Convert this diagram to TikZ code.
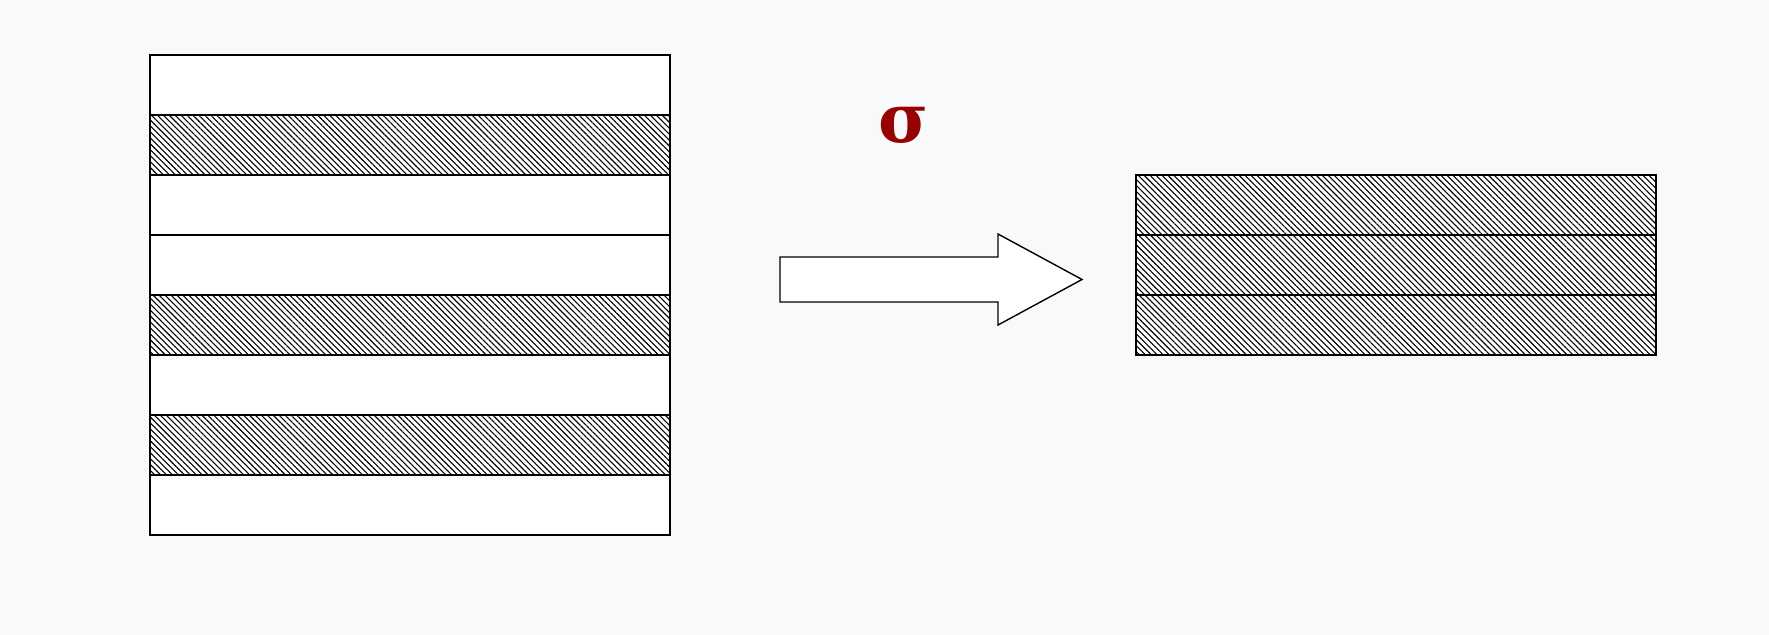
\documentclass[tikz,border=0pt]{standalone}
\usepackage{fontspec}
\usetikzlibrary{patterns.meta}
\newfontfamily\sigmafont{DejaVu Serif}
\definecolor{bgcol}{HTML}{F8F9FA}
\definecolor{sigmared}{HTML}{990000}
\tikzset{hatched/.style={pattern={Lines[angle=-45,distance=2.1pt,line width=.55pt]}}}
\begin{document}
\begin{tikzpicture}[x=.5pt,y=-.5pt,line width=.75pt]
            \def\w{520} \def\h{60}
            \fill[bgcol] (0,0) rectangle (1769,635);
            \useasboundingbox (0,0) rectangle (1769,635);
            % left stack
            \foreach \i in {0,...,7}
            \draw[fill=white] (150,55+\i*\h) rectangle ++(\w,\h);
            \foreach \i in {1,4,6}
            \draw[hatched] (150,55+\i*\h) rectangle ++(\w,\h);
            % right stack
            \foreach \i in {0,1,2}
            \draw[fill=white,postaction={hatched}] (1136,175+\i*\h) rectangle ++(\w,\h);
            % arrow
            \draw[fill=white,line width=.7pt] (780,257)--(998,257)--(998,234)--(1082,279.5)--(998,325)--(998,302)--(780,302)--cycle;
            \node[anchor=base,inner sep=0,text=sigmared,font=\sigmafont\bfseries\fontsize{34}{34}\selectfont] (sigma) at (904,143) {σ};
        \end{tikzpicture}
\end{document}
